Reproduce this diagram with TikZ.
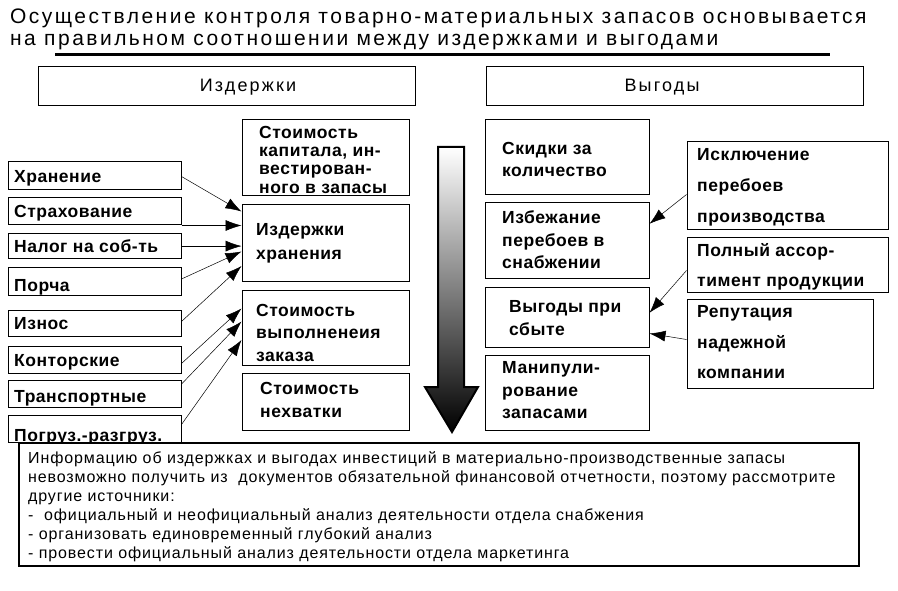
\documentclass[tikz,border=0pt]{standalone}
\usepackage{fontspec}
\setmainfont{Liberation Sans}
\newfontfamily\titlefont[LetterSpace=11.8]{Liberation Sans}
\newfontfamily\hdfont[LetterSpace=12]{Liberation Sans}
\newfontfamily\bxfont[LetterSpace=3]{Liberation Sans Bold}
\newfontfamily\infofont[LetterSpace=5.5]{Liberation Sans}
\usetikzlibrary{arrows.meta,calc,fit}
\begin{document}
\begin{tikzpicture}[x=1pt,y=-1pt,
  box/.style={draw,line width=1pt,inner sep=0pt},
  lt/.style={anchor=base west,inner sep=0pt,font=\bxfont\fontsize{17.5}{20}\selectfont},
  bt/.style={anchor=north west,inner sep=0pt,align=left,font=\bxfont\fontsize{17.5}{#1}\selectfont},
  bt/.default=22,
  hd/.style={anchor=base,inner sep=0pt,font=\hdfont\fontsize{18}{20}\selectfont},
  ttl/.style={anchor=west,inner sep=0pt,font=\titlefont\fontsize{21}{24}\selectfont},
  arr/.style={-{Latex[length=16pt,width=11pt]},line width=0.5pt}]
\useasboundingbox[fill=white] (0,0) rectangle (898,591);
% title
\node[ttl] (t1) at (10,18) {Осуществление контроля товарно-материальных запасов основывается};
\node[ttl] (t2) at (10,42) {на правильном соотношении между издержками и выгодами};
\draw[line width=3pt] (55,55) -- (830,55);
% headers
\node[box,fit={(38,67)(415,106)}] (hdL) {};
\node[hd] (hdLt) at (248,92) {Издержки};
\node[box,fit={(486,67)(863,106)}] (hdR) {};
\node[hd] (hdRt) at (662,92) {Выгоды};
% left labels
\node[box,fit={(8,162)(181,190)}] (l1) {};
\node[lt] (l1t) at (14,183) {Хранение};
\node[box,fit={(8,198)(181,225)}] (l2) {};
\node[lt] (l2t) at (14,218) {Страхование};
\node[box,fit={(8,234)(181,259)}] (l3) {};
\node[lt] (l3t) at (14,253) {Налог на соб-ть};
\node[box,fit={(8,268)(181,295)}] (l4) {};
\node[lt] (l4t) at (14,291) {Порча};
\node[box,fit={(8,310)(181,336)}] (l5) {};
\node[lt] (l5t) at (14,329) {Износ};
\node[box,fit={(8,346)(181,373)}] (l6) {};
\node[lt] (l6t) at (14,366) {Конторские};
\node[box,fit={(8,380)(181,407)}] (l7) {};
\node[lt] (l7t) at (14,402) {Транспортные};
\node[box,fit={(8,415)(181,442)}] (l8) {};
\node[lt] (l8t) at (14,441) {Погруз.-разгруз.};
% cost boxes
\node[box,fit={(242,120)(409,196)}] (c1) {};
\node[bt=18.4] (c1t) at (259,125.7) {Стоимость\\капитала, ин-\\вестирован-\\ного в запасы};
\node[box,fit={(242,205)(409,281)}] (c2) {};
\node[bt=24] (c2t) at (256,223.7) {Издержки\\хранения};
\node[box,fit={(242,290)(409,365)}] (c3) {};
\node[bt=22.5] (c3t) at (256,303.7) {Стоимость\\выполненеия\\заказа};
\node[box,fit={(242,373)(409,430)}] (c4) {};
\node[bt=23] (c4t) at (260,381.7) {Стоимость\\нехватки};
% benefit boxes
\node[box,fit={(485,120)(649,195)}] (b1) {};
\node[bt=22] (b1t) at (502,141.7) {Скидки за\\количество};
\node[box,fit={(485,203)(649,278)}] (b2) {};
\node[bt=22.5] (b2t) at (502,210.7) {Избежание\\перебоев в\\снабжении};
\node[box,fit={(485,287)(649,347)}] (b3) {};
\node[bt=23] (b3t) at (509,300.7) {Выгоды при\\сбыте};
\node[box,fit={(485,355)(649,430)}] (b4) {};
\node[bt=22.5] (b4t) at (502,361.7) {Манипули-\\рование\\запасами};
% right boxes
\node[box,fit={(687,142)(888,230)}] (r1) {};
\node[bt=31] (r1t) at (697,148.7) {Исключение\\перебоев\\производства};
\node[box,fit={(687,238)(888,292)}] (r2) {};
\node[bt=30] (r2t) at (697,243.7) {Полный ассор-\\тимент продукции};
\node[box,fit={(687,299)(873,388)}] (r3) {};
\node[bt=30.5] (r3t) at (697,305.7) {Репутация\\надежной\\компании};
% big arrow
\shade[top color=white,bottom color=black]
  (438,147) -- (464,147) -- (464,387) -- (478,387) -- (452,432) -- (425,387) -- (438,387) -- cycle;
\draw[line width=2pt,line join=miter]
  (438,147) -- (464,147) -- (464,387) -- (478,387) -- (452,432) -- (425,387) -- (438,387) -- cycle;
% left connectors
\coordinate (l3o) at ($(l3.north east)+(0,12.6)$);
\draw[arr] ($(l1.north east)+(0,15)$) -- ($(c2.north west)+(0,7)$);
\draw[arr] (l2.south east) -- (l2.south east -| c2.west);
\draw[arr] (l3o) -- (l3o -| c2.west);
\draw[arr] ($(l4.north east)+(0,11.5)$) -- ($(c2.north west)+(0,47)$);
\draw[arr] ($(l5.north east)+(0,12)$) -- ($(c2.north west)+(0,61.5)$);
\draw[arr] ($(l6.north east)+(0,18)$) -- ($(c3.north west)+(0,19)$);
\draw[arr] ($(l7.north east)+(0,4.6)$) -- ($(c3.north west)+(0,32)$);
\draw[arr] ($(l8.north east)+(0,10)$) -- ($(c3.north west)+(0,50.5)$);
% right connectors
\draw[arr] ($(r1.north west)+(0,53)$) -- ($(b2.north east)+(0,21.3)$);
\draw[arr] ($(r2.north west)+(0,33)$) -- ($(b3.north east)+(0,26.3)$);
\draw[arr] ($(r3.north west)+(0,41)$) -- ($(b3.north east)+(0,47)$);
% info box
\node[draw,line width=2pt,fill=white,fit={(19,443)(859,566)},inner sep=0pt] (info) {};
\node[anchor=north west,inner sep=0pt,align=left,font=\infofont\fontsize{16}{19}\selectfont] (infot) at (28,451)
 {Информацию об издержках и выгодах инвестиций в материально-производственные запасы\\
 невозможно получить из\ \ документов обязательной финансовой отчетности, поэтому рассмотрите\\
 другие источники:\\
 -\ \ официальный и неофициальный анализ деятельности отдела снабжения\\
 - организовать единовременный глубокий анализ\\
 - провести официальный анализ деятельности отдела маркетинга};
\end{tikzpicture}
\end{document}
